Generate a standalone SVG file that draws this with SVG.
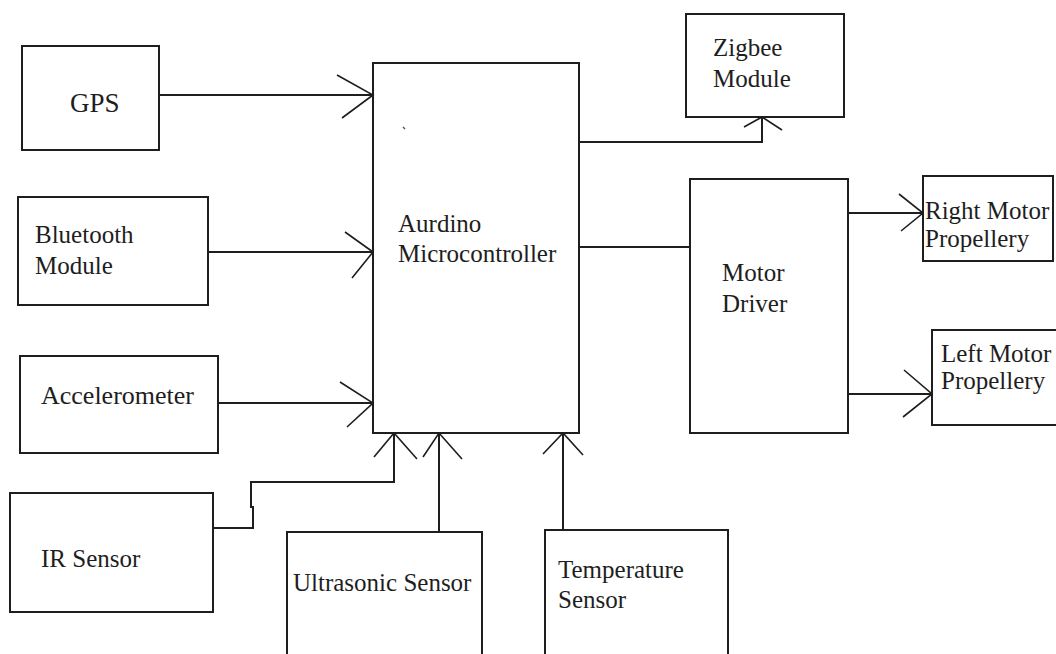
<svg xmlns="http://www.w3.org/2000/svg" width="1056" height="654" viewBox="0 0 1056 654">
<style>
.box{fill:#fff;stroke:#1e1e1e;stroke-width:2}
.t{font-family:"Liberation Serif","Times New Roman",serif;font-size:25px;fill:#1e1e1e}
.ln{fill:none;stroke:#1e1e1e;stroke-width:2}
.ah{fill:none;stroke:#1e1e1e;stroke-width:1.6}
</style>
<rect width="1056" height="654" fill="#fff"/>
<g id="main"><rect class="box" x="373" y="63" width="206" height="370"/><text class="t" x="398" y="232">Aurdino</text><text class="t" x="398" y="262">Microcontroller</text><path d="M403,127 L405,129" stroke="#444" stroke-width="1.2"/></g>
<g id="gps"><rect class="box" x="22" y="46" width="137" height="104"/><text class="t" x="70" y="112" style="font-size:27px">GPS</text></g>
<g id="bluetooth"><rect class="box" x="18" y="197" width="190" height="108"/><text class="t" x="35" y="243">Bluetooth</text><text class="t" x="35" y="274">Module</text></g>
<g id="accelerometer"><rect class="box" x="20" y="356" width="198" height="97"/><text class="t" x="41" y="404" style="font-size:26px">Accelerometer</text></g>
<g id="ir"><rect class="box" x="10" y="493" width="203" height="119"/><text class="t" x="41" y="567">IR Sensor</text></g>
<g id="ultrasonic"><rect class="box" x="287" y="532" width="195" height="130"/><text class="t" x="293" y="591">Ultrasonic Sensor</text></g>
<g id="temperature"><rect class="box" x="545" y="530" width="183" height="132"/><text class="t" x="558" y="578">Temperature</text><text class="t" x="558" y="608">Sensor</text></g>
<g id="zigbee"><rect class="box" x="686" y="14" width="158" height="103"/><text class="t" x="713" y="56">Zigbee</text><text class="t" x="713" y="87">Module</text></g>
<g id="motordriver"><rect class="box" x="690" y="179" width="158" height="254"/><text class="t" x="722" y="281">Motor</text><text class="t" x="722" y="312">Driver</text></g>
<g id="rightmotor"><rect class="box" x="923" y="176" width="130" height="85"/><text class="t" x="925" y="219">Right Motor</text><text class="t" x="925" y="247">Propellery</text></g>
<g id="leftmotor"><rect class="box" x="932" y="330" width="130" height="95"/><text class="t" x="941" y="362">Left Motor</text><text class="t" x="941" y="389">Propellery</text></g>
<g id="connectors">
<path class="ln" d="M159,95 H373"/><path class="ah" d="M337,75 L373,95 L342,118"/>
<path class="ln" d="M208,252 H373"/><path class="ah" d="M345,232 L373,252 L352,278"/>
<path class="ln" d="M218,403 H373"/><path class="ah" d="M340,382 L373,403 L347,427"/>
<path class="ln" d="M213,528 H253 V507 H251 V482 H394 V433"/><path class="ah" d="M374,457 L394,433 L417,459"/>
<path class="ln" d="M439,532 V433"/><path class="ah" d="M423,457 L439,433 L462,459"/>
<path class="ln" d="M563,530 V433"/><path class="ah" d="M543,454 L563,433 L583,455"/>
<path class="ln" d="M579,142 H762 V117"/><path class="ah" d="M744,127 L762,117 L782,130"/>
<path class="ln" d="M579,247 H690"/>
<path class="ln" d="M848,213 H923"/><path class="ah" d="M899,194 L923,213 L901,231"/>
<path class="ln" d="M848,394 H932"/><path class="ah" d="M904,370 L932,394 L903,417"/>
</g>
</svg>
